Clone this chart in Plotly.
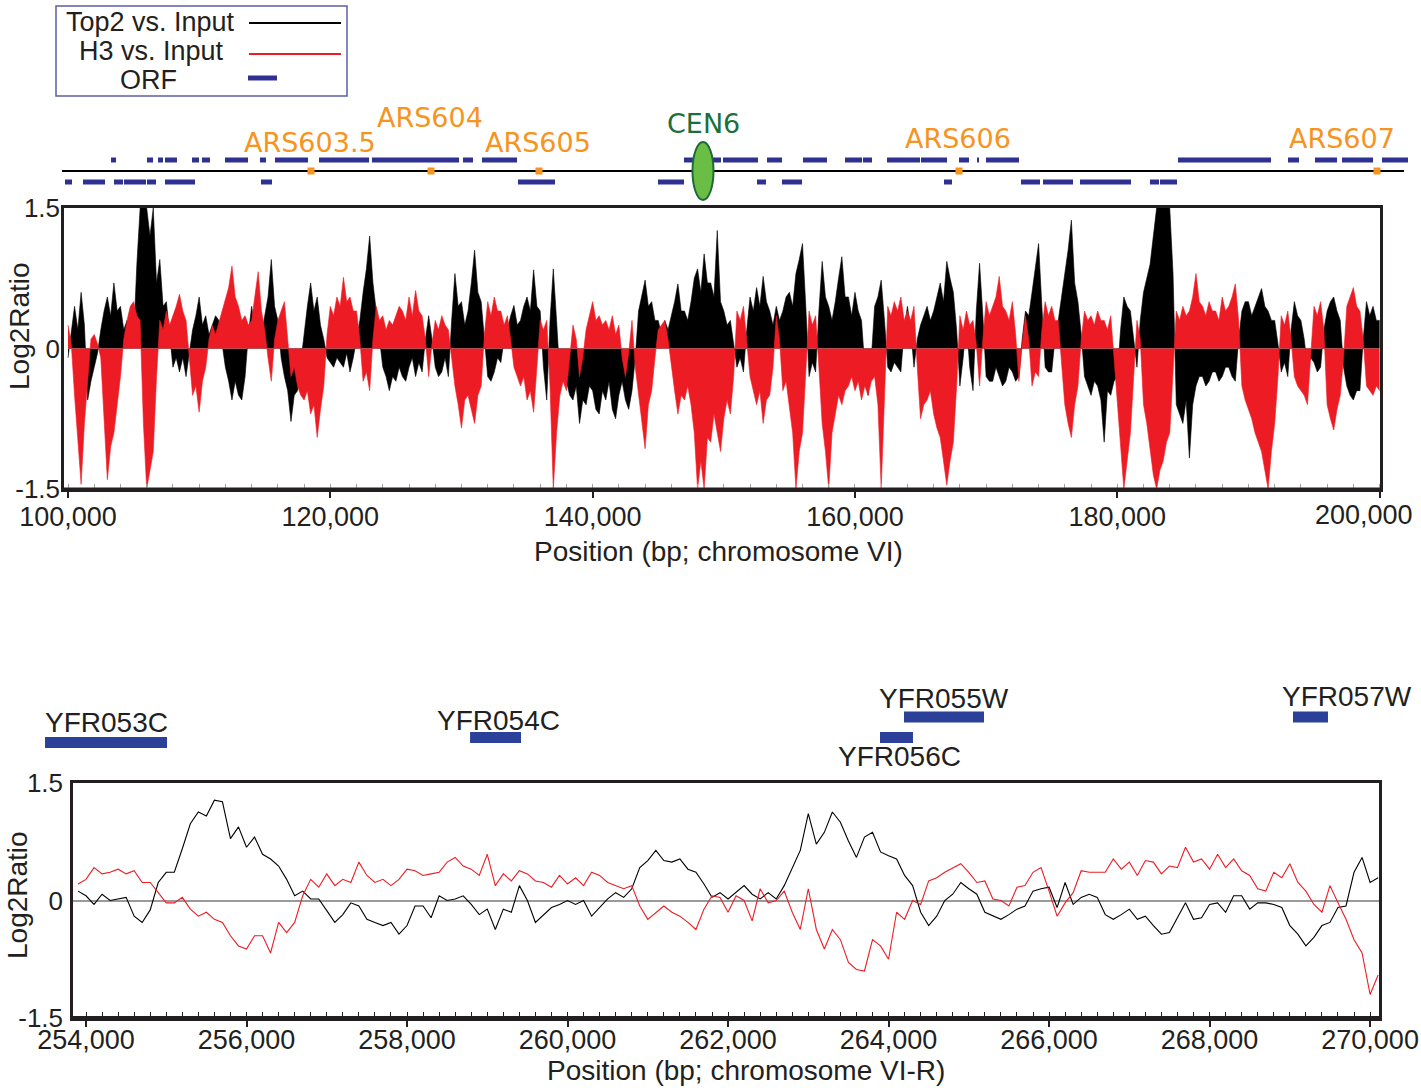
import plotly.graph_objects as go

W, H = 1421, 1088


def px(x):
    return x / W


def py(y):
    return 1 - y / H


# ---------------- DATA ----------------
# Top panel: chromosome VI 100,000-200,000, one value every 250 bp
top_start, top_step = 100000, 250
top2_top = [
    -0.10, 0.15, 0.45, 0.20, 0.60, 0.25, -0.55, -0.35, -0.20, -0.05,
    0.20, 0.40, 0.55, 0.35, 0.70, 0.40, 0.45, 0.20, 0.30, 0.15,
    0.10, 0.90, 1.50, 1.50, 1.50, 1.20, 1.50, 0.70, 0.95, 0.45,
    0.50, 0.15, -0.20, -0.10, -0.25, -0.10, -0.30, -0.05, 0.20, 0.35,
    0.55, 0.25, 0.35, 0.15, 0.25, 0.35, 0.30, 0.05, -0.20, -0.35,
    -0.55, -0.35, -0.50, -0.55, -0.30, 0.15, 0.45, 0.20, 0.30, 0.15,
    0.35, 0.55, 0.95, 0.45, 0.30, -0.10, -0.30, -0.45, -0.78, -0.50,
    -0.45, -0.15, 0.20, 0.45, 0.70, 0.40, 0.55, 0.25, 0.10, -0.10,
    -0.15, -0.20, -0.10, -0.15, -0.20, -0.05, -0.25, -0.10, 0.10, 0.30,
    0.60, 0.85, 1.20, 0.70, 0.40, 0.10, -0.20, -0.30, -0.45, -0.30,
    -0.35, -0.20, -0.30, -0.35, -0.20, -0.10, -0.30, -0.15, -0.25, 0.10,
    0.35, 0.10, -0.20, -0.30, -0.25, -0.10, -0.30, 0.30, 0.80, 0.45,
    0.50, 0.25, 0.40, 0.70, 1.05, 0.60, 0.50, 0.10, -0.30, -0.35,
    -0.25, -0.10, -0.15, 0.10, 0.20, 0.35, 0.46, 0.25, 0.30, 0.45,
    0.55, 0.40, 0.84, 0.45, 0.40, -0.20, -0.55, 0.30, 0.85, 0.30,
    -0.30, -0.20, -0.35, -0.50, -0.55, -0.40, -0.80, -0.55, -0.60, -0.40,
    -0.45, -0.65, -0.70, -0.45, -0.55, -0.35, -0.65, -0.75, -0.50, -0.35,
    -0.55, -0.65, -0.45, -0.10, 0.40, 0.55, 0.73, 0.45, 0.50, 0.30,
    0.30, 0.15, 0.30, 0.20, 0.35, 0.50, 0.69, 0.40, 0.40, 0.30,
    0.50, 0.75, 0.85, 0.60, 1.01, 0.70, 0.70, 0.55, 1.26, 0.50,
    0.40, 0.25, 0.30, 0.05, -0.20, -0.10, -0.25, 0.20, 0.55, 0.40,
    0.65, 0.45, 0.77, 0.50, 0.40, 0.25, 0.45, 0.30, 0.40, 0.55,
    0.60, 0.45, 0.80, 0.95, 1.12, 0.45, -0.30, -0.15, -0.25, 0.40,
    0.93, 0.55, 0.45, 0.30, 0.50, 0.75, 0.98, 0.55, 0.55, 0.35,
    0.60, 0.40, 0.30, -0.20, -0.50, -0.10, 0.45, 0.55, 0.73, 0.30,
    -0.20, -0.25, -0.15, -0.20, -0.25, 0.20, 0.45, 0.20, -0.20, 0.10,
    0.25, 0.35, 0.45, 0.30, 0.40, 0.55, 0.70, 0.50, 0.93, 0.75,
    0.60, 0.20, -0.40, -0.10, 0.30, -0.20, -0.45, 0.40, 0.91, 0.35,
    -0.30, -0.35, -0.35, -0.20, -0.30, -0.40, -0.35, -0.20, -0.25, -0.35,
    -0.30, 0.10, 0.40, 0.35, 0.60, 0.85, 1.12, 0.45, -0.20, -0.25,
    -0.25, 0.10, 0.30, 0.55, 0.80, 1.05, 1.37, 0.70, 0.50, 0.15,
    -0.30, -0.40, -0.50, -0.35, -0.40, -0.55, -1.00, -0.45, -0.50, -0.35,
    -0.30, 0.20, 0.55, 0.45, 0.40, 0.10, -0.20, 0.30, 0.60, 0.75,
    0.90, 1.20, 1.50, 1.50, 1.50, 1.50, 1.50, 0.80, -0.60, -0.70,
    -0.80, -0.55, -1.17, -0.60, -0.40, -0.30, -0.30, -0.40, -0.35, -0.25,
    -0.25, -0.35, -0.30, -0.20, -0.20, -0.30, -0.35, 0.10, 0.40, 0.50,
    0.50, 0.35, 0.45, 0.55, 0.64, 0.45, 0.40, 0.30, 0.30, 0.05,
    -0.25, -0.15, -0.30, 0.20, 0.50, 0.35, 0.30, 0.10, -0.20, -0.10,
    -0.15, -0.25, -0.20, 0.20, 0.40, 0.50, 0.55, 0.40, 0.30, -0.20,
    -0.40, -0.50, -0.55, -0.45, -0.45, 0.10, 0.50, 0.35, 0.45, 0.30,
    0.30,
]
h3_top = [
    0.25, 0.05, -0.50, -1.00, -1.45, -0.80, -0.35, 0.10, 0.15, 0.05,
    -0.10, -0.70, -1.40, -1.05, -0.90, -0.60, -0.30, 0.10, 0.30, 0.45,
    0.50, 0.35, 0.30, -0.80, -1.50, -1.30, -1.10, -0.30, 0.30, 0.20,
    0.40, 0.25, 0.35, 0.45, 0.58, 0.40, 0.30, -0.10, -0.50, -0.40,
    -0.68, -0.35, -0.20, 0.10, 0.25, 0.15, 0.28, 0.40, 0.55, 0.65,
    0.88, 0.55, 0.45, 0.30, 0.35, 0.25, 0.30, 0.55, 0.82, 0.40,
    0.20, -0.10, -0.35, 0.10, 0.30, 0.40, 0.50, 0.10, -0.30, -0.20,
    -0.40, -0.50, -0.55, -0.45, -0.70, -0.60, -0.95, -0.65, -0.40, 0.15,
    0.45, 0.35, 0.55, 0.45, 0.76, 0.50, 0.55, 0.40, 0.40, 0.10,
    -0.35, -0.25, -0.45, 0.10, 0.45, 0.30, 0.35, 0.20, 0.30, 0.25,
    0.35, 0.45, 0.40, 0.30, 0.55, 0.35, 0.62, 0.40, 0.35, 0.10,
    -0.30, 0.05, 0.30, 0.20, 0.35, 0.25, 0.20, -0.10, -0.40, -0.60,
    -0.85, -0.55, -0.50, -0.65, -0.80, -0.50, -0.40, 0.15, 0.50, 0.35,
    0.55, 0.40, 0.40, 0.25, 0.35, 0.10, -0.20, -0.30, -0.40, -0.30,
    -0.55, -0.45, -0.68, -0.20, 0.30, 0.20, 0.30, -0.40, -1.50, -0.90,
    -0.50, -0.35, -0.45, -0.10, 0.25, 0.10, -0.30, -0.10, 0.20, 0.35,
    0.50, 0.30, 0.35, 0.25, 0.30, 0.20, 0.35, 0.15, 0.25, -0.10,
    -0.30, -0.05, 0.30, -0.20, -0.50, -0.75, -1.07, -0.60, -0.45, -0.10,
    0.20, 0.25, 0.30, 0.10, -0.20, -0.45, -0.70, -0.50, -0.55, -0.40,
    -0.60, -0.90, -1.50, -1.20, -1.50, -0.95, -1.00, -0.70, -0.90, -1.10,
    -0.75, -0.55, -0.70, -0.30, 0.40, 0.30, 0.45, 0.10, -0.30, -0.45,
    -0.60, -0.45, -0.80, -0.55, -0.50, -0.20, 0.35, 0.10, -0.45, -0.35,
    -0.60, -0.90, -1.50, -1.10, -0.90, -0.30, 0.40, 0.25, 0.35, -0.20,
    -0.80, -1.10, -1.50, -0.90, -0.70, -0.50, -0.60, -0.45, -0.40, -0.30,
    -0.45, -0.35, -0.55, -0.40, -0.50, -0.35, -0.30, -0.60, -1.50, -0.40,
    0.45, 0.35, 0.50, 0.40, 0.55, 0.30, 0.40, 0.30, 0.45, -0.20,
    -0.75, -0.60, -0.55, -0.45, -0.70, -0.85, -0.95, -1.20, -1.46, -1.20,
    -1.00, -0.40, 0.35, 0.20, 0.40, 0.25, 0.30, 0.05, -0.40, 0.10,
    0.50, 0.35, 0.45, 0.55, 0.77, 0.45, 0.40, 0.30, 0.50, 0.15,
    -0.35, 0.05, 0.35, 0.10, -0.40, -0.25, -0.30, 0.20, 0.50, 0.35,
    0.45, 0.30, 0.30, -0.20, -0.60, -0.80, -0.95, -0.60, -0.40, 0.10,
    0.40, 0.30, 0.35, 0.25, 0.40, 0.30, 0.30, 0.20, 0.35, -0.10,
    -0.60, -1.00, -1.50, -1.20, -0.90, -0.30, 0.30, 0.10, -0.60, -0.80,
    -1.10, -1.35, -1.50, -1.30, -1.20, -1.00, -0.90, -0.30, 0.40, 0.30,
    0.45, 0.35, 0.40, 0.55, 0.80, 0.50, 0.45, 0.35, 0.50, 0.40,
    0.40, 0.30, 0.55, 0.40, 0.45, 0.55, 0.69, 0.30, -0.40, -0.55,
    -0.65, -0.75, -0.90, -1.00, -1.10, -1.30, -1.50, -1.10, -0.80, -0.30,
    0.35, 0.25, 0.40, 0.10, -0.30, -0.40, -0.45, -0.50, -0.60, -0.10,
    0.45, 0.35, 0.50, 0.20, -0.60, -0.75, -0.87, -0.65, -0.50, -0.10,
    0.45, 0.55, 0.65, 0.45, 0.40, 0.10, -0.40, -0.45, -0.50, -0.40,
    -0.45,
]

# ORFs on chromosome VI (bp), Watson (above line) and Crick (below line)
orf_watson = [
    (103277, 103659), (106021, 106479), (106860, 107241), (107393, 108308),
    (109451, 109985), (110213, 110823), (111967, 113720), (114634, 115092),
    (115778, 118293), (119131, 122942), (123171, 129802), (130107, 130869),
    (131555, 134223), (146952, 148171), (149009, 149771), (149924, 152591),
    (153277, 154421), (156022, 157851), (159223, 160519), (160595, 161281),
    (162424, 164939), (165016, 166997), (167912, 168674), (169284, 169436),
    (169970, 172485), (184604, 191693), (192988, 193827), (195047, 196724),
    (197105, 199468), (200154, 202136),
]
orf_crick = [
    (99771, 100305), (101143, 102820), (103506, 104192), (104268, 105945),
    (106021, 106707), (107393, 109680), (114710, 115549), (134299, 137119),
    (144970, 146952), (152516, 153202), (154421, 155945), (166769, 167379),
    (172638, 174086), (174315, 176601), (177135, 181022), (182470, 183156),
    (183232, 184528),
]
ars_names = ["ARS603.5", "ARS604", "ARS605", "ARS606", "ARS607"]
ars_pos = [118521, 127668, 135899, 167912, 199771]
cen_name = "CEN6"
cen_pos = 148400
track_span = (99543, 201830)

# Bottom panel: chromosome VI-R 253,900-270,100, one value every 100 bp
bot_start, bot_step = 253900, 100
top2_bot = [
    0.12, 0.06, -0.05, 0.08, 0.00, 0.02, 0.04, -0.20, -0.28, -0.12,
    0.23, 0.36, 0.36, 0.66, 0.98, 1.13, 1.08, 1.28, 1.26, 0.79,
    0.94, 0.68, 0.81, 0.59, 0.53, 0.44, 0.27, 0.06, 0.12, 0.02,
    0.02, -0.13, -0.28, -0.18, -0.03, -0.07, -0.24, -0.28, -0.32, -0.28,
    -0.43, -0.32, -0.07, -0.07, -0.22, 0.06, 0.00, 0.02, 0.06, -0.05,
    -0.18, -0.11, -0.37, -0.11, -0.15, 0.19, 0.00, -0.28, -0.18, -0.09,
    -0.05, 0.00, -0.05, 0.00, -0.20, -0.09, 0.02, 0.10, 0.04, 0.15,
    0.42, 0.51, 0.64, 0.51, 0.49, 0.53, 0.40, 0.36, 0.21, 0.04,
    0.10, 0.02, 0.10, 0.19, 0.08, 0.02, 0.10, 0.02, 0.19, 0.42,
    0.64, 1.11, 0.72, 0.87, 1.13, 1.00, 0.76, 0.55, 0.81, 0.87,
    0.62, 0.57, 0.53, 0.32, 0.19, -0.15, -0.32, -0.20, 0.00, 0.08,
    0.23, 0.15, 0.08, -0.15, -0.20, -0.24, -0.18, -0.11, -0.07, 0.12,
    0.15, 0.17, -0.09, 0.23, -0.05, 0.04, 0.08, 0.04, -0.18, -0.24,
    -0.18, -0.11, -0.24, -0.20, -0.32, -0.43, -0.41, -0.22, -0.03, -0.24,
    -0.22, -0.05, -0.03, -0.15, 0.06, 0.06, -0.11, -0.03, -0.03, -0.05,
    -0.09, -0.32, -0.43, -0.58, -0.47, -0.32, -0.28, -0.09, -0.07, 0.36,
    0.55, 0.23, 0.29,
]
h3_bot = [
    0.21, 0.27, 0.42, 0.34, 0.36, 0.40, 0.34, 0.38, 0.23, 0.23,
    0.10, -0.03, -0.03, 0.04, -0.11, -0.20, -0.15, -0.24, -0.28, -0.45,
    -0.58, -0.62, -0.45, -0.45, -0.67, -0.28, -0.41, -0.28, 0.06, 0.27,
    0.17, 0.34, 0.19, 0.27, 0.23, 0.49, 0.32, 0.23, 0.27, 0.19,
    0.27, 0.40, 0.38, 0.32, 0.34, 0.36, 0.49, 0.55, 0.44, 0.40,
    0.32, 0.59, 0.19, 0.34, 0.25, 0.38, 0.34, 0.25, 0.23, 0.17,
    0.32, 0.21, 0.29, 0.19, 0.36, 0.32, 0.23, 0.19, 0.15, 0.19,
    -0.07, -0.24, -0.15, -0.07, -0.15, -0.20, -0.28, -0.37, -0.11, 0.06,
    0.04, -0.15, 0.06, 0.00, -0.26, 0.15, -0.03, 0.00, 0.12, -0.15,
    -0.37, 0.15, -0.37, -0.62, -0.37, -0.50, -0.79, -0.88, -0.90, -0.50,
    -0.58, -0.75, -0.15, -0.24, 0.00, -0.05, 0.25, 0.29, 0.36, 0.42,
    0.47, 0.36, 0.23, 0.25, 0.02, 0.00, -0.07, 0.17, 0.19, 0.36,
    0.42, 0.12, -0.20, -0.03, 0.10, 0.38, 0.36, 0.36, 0.36, 0.53,
    0.40, 0.49, 0.32, 0.51, 0.49, 0.34, 0.44, 0.42, 0.68, 0.49,
    0.53, 0.40, 0.59, 0.42, 0.53, 0.38, 0.32, 0.15, 0.12, 0.36,
    0.29, 0.47, 0.23, 0.12, -0.05, -0.15, 0.19, -0.03, -0.24, -0.50,
    -0.67, -1.20, -0.95,
]
gene_names = ["YFR053C", "YFR054C", "YFR055W", "YFR056C", "YFR057W"]
gene_start = [253489, 258785, 264192, 263893, 269039]
gene_end = [255009, 259420, 265189, 264304, 269475]

top_ticks = [100000, 120000, 140000, 160000, 180000, 200000]
bot_ticks = [254000, 256000, 258000, 260000, 262000, 264000, 266000, 268000, 270000]
y_ticks = [-1.5, 0, 1.5]
y_ticktext = ["-1.5", "0", "1.5"]

# ---------------- STYLE ----------------
BLACK = "#000000"
RED = "#ED1C24"
NAVY = "#2E3192"
GENEBLUE = "#2B4099"
ORANGE = "#F7941D"
TXT = "#231F20"
FONT = "Liberation Sans, Arial, sans-serif"
WIDEFONT = "DejaVu Sans, Verdana, sans-serif"

# track levels (in track-axis units: pixels above the track bottom)
LINE_Y, WATSON_Y, CRICK_Y = 34, 45, 23
ars_label_y = [63, 88, 63, 67, 67]
ars_label_dx = [-1, -1, -1, -1, -35]
gene_bar_y = [27.5, 32.5, 53, 32.5, 53]
gene_label_y = [48, 50, 72, 14, 74]
gene_label_dx = [0, 3, 0, 3, 37]

top_pos = [top_start + top_step * i for i in range(len(top2_top))]
bot_pos = [bot_start + bot_step * i for i in range(len(top2_bot))]

# the last top tick label sits left of its tick (drawn separately)
top_ticktext = [f"{v:,}" for v in top_ticks[:-1]] + [""]

fig = go.Figure()

# top panel filled profiles
fig.add_trace(go.Scatter(x=top_pos, y=top2_top, xaxis="x", yaxis="y", mode="lines",
                         line=dict(color=BLACK, width=0.6), fill="tozeroy",
                         fillcolor=BLACK, hoverinfo="skip", showlegend=False))
fig.add_trace(go.Scatter(x=top_pos, y=h3_top, xaxis="x", yaxis="y", mode="lines",
                         line=dict(color=RED, width=0.6), fill="tozeroy",
                         fillcolor=RED, hoverinfo="skip", showlegend=False))

# top track: chromosome line, ORFs, ARS
fig.add_trace(go.Scatter(x=list(track_span), y=[LINE_Y, LINE_Y], xaxis="x3", yaxis="y3",
                         mode="lines", line=dict(color=BLACK, width=2),
                         hoverinfo="skip", showlegend=False))


def seg_xy(pairs, level):
    xs, ys = [], []
    for s, e in pairs:
        xs += [s, e, None]
        ys += [level, level, None]
    return xs, ys


wx, wy = seg_xy(orf_watson, WATSON_Y)
cx, cy = seg_xy(orf_crick, CRICK_Y)
fig.add_trace(go.Scatter(x=wx, y=wy, xaxis="x3", yaxis="y3", mode="lines",
                         line=dict(color=NAVY, width=5), hoverinfo="skip", showlegend=False))
fig.add_trace(go.Scatter(x=cx, y=cy, xaxis="x3", yaxis="y3", mode="lines",
                         line=dict(color=NAVY, width=5), hoverinfo="skip", showlegend=False))
fig.add_trace(go.Scatter(x=ars_pos, y=[LINE_Y] * len(ars_pos), xaxis="x3", yaxis="y3",
                         mode="markers", marker=dict(symbol="square", size=7, color=ORANGE),
                         hoverinfo="skip", showlegend=False))

# bottom panel lines
fig.add_trace(go.Scatter(x=bot_pos, y=top2_bot, xaxis="x2", yaxis="y2", mode="lines",
                         line=dict(color=BLACK, width=1.1), hoverinfo="skip", showlegend=False))
fig.add_trace(go.Scatter(x=bot_pos, y=h3_bot, xaxis="x2", yaxis="y2", mode="lines",
                         line=dict(color=RED, width=1.1), hoverinfo="skip", showlegend=False))

# bottom gene track
for s, e, lv in zip(gene_start, gene_end, gene_bar_y):
    fig.add_trace(go.Scatter(x=[s, e], y=[lv, lv], xaxis="x4", yaxis="y4", mode="lines",
                             line=dict(color=GENEBLUE, width=11), hoverinfo="skip",
                             showlegend=False))

tickfont = dict(family=FONT, size=27, color=TXT)
ytickfont = dict(family=FONT, size=26, color=TXT)

fig.update_layout(
    template="none",
    width=W, height=H, autosize=False,
    margin=dict(l=0, r=0, t=0, b=0, pad=0),
    paper_bgcolor="white", plot_bgcolor="white",
    showlegend=False,
    xaxis=dict(domain=[px(64), px(1380)], range=[99695, 200030], anchor="y",
               automargin=False,
               showline=True, linecolor=TXT, linewidth=2.5, mirror=True,
               tickvals=top_ticks, ticktext=top_ticktext, ticks="outside", ticklen=6,
               tickwidth=2, tickcolor=TXT,
               minor=dict(dtick=2000, tick0=100000, ticks="inside", ticklen=5,
                          tickcolor="#a0a0a0", tickwidth=1),
               tickfont=tickfont, showgrid=False, zeroline=False,
               ticklabelstandoff=-4, fixedrange=True),
    yaxis=dict(domain=[py(489), py(208)], range=[-1.5, 1.5], anchor="x",
               automargin=False,
               showline=True, linecolor=TXT, linewidth=2.5, mirror=True,
               tickvals=y_ticks, ticktext=y_ticktext, ticks="",
               tickfont=ytickfont, showgrid=False, zeroline=False,
               ticklabelstandoff=-4, fixedrange=True),
    xaxis2=dict(domain=[px(73), px(1379)], range=[253838, 270111], anchor="y2",
                automargin=False,
                showline=True, linecolor=TXT, linewidth=2.5, mirror=True,
                tickvals=bot_ticks, tickformat=",d", ticks="outside", ticklen=6,
                tickwidth=2, tickcolor=TXT,
                minor=dict(dtick=200, tick0=254000, ticks="inside", ticklen=6,
                           tickcolor=TXT, tickwidth=1),
                tickfont=tickfont, showgrid=False, zeroline=False,
                ticklabelstandoff=-10, fixedrange=True),
    yaxis2=dict(domain=[py(1018), py(783)], range=[-1.5, 1.5], anchor="x2",
                automargin=False,
                showline=True, linecolor=TXT, linewidth=2.5, mirror=True,
                tickvals=y_ticks, ticktext=y_ticktext, ticks="",
                tickfont=ytickfont, showgrid=False, zeroline=True,
                zerolinecolor="#9a9a9a", zerolinewidth=1.5,
                ticklabelstandoff=2, fixedrange=True),
    xaxis3=dict(domain=[0, 1], range=[94817, 203126], anchor="y3", visible=False,
                automargin=False, fixedrange=True),
    yaxis3=dict(domain=[py(205), py(100)], range=[0, 105], anchor="x3", visible=False,
                automargin=False, fixedrange=True),
    xaxis4=dict(domain=[0, 1], range=[252928, 270634], anchor="y4", visible=False,
                automargin=False, fixedrange=True),
    yaxis4=dict(domain=[py(770), py(680)], range=[0, 90], anchor="x4", visible=False,
                automargin=False, fixedrange=True),
)

shapes = [
    # legend box and samples
    dict(type="rect", xref="paper", yref="paper", x0=px(56), x1=px(347), y0=py(96), y1=py(6),
         line=dict(color="#5B5EA6", width=1.5), fillcolor="white", layer="above"),
    dict(type="line", xref="paper", yref="paper", x0=px(249), x1=px(341), y0=py(23), y1=py(23),
         line=dict(color=BLACK, width=2), layer="above"),
    dict(type="line", xref="paper", yref="paper", x0=px(249), x1=px(341), y0=py(54), y1=py(54),
         line=dict(color=RED, width=2), layer="above"),
    dict(type="line", xref="paper", yref="paper", x0=px(248), x1=px(277), y0=py(78), y1=py(78),
         line=dict(color=NAVY, width=5), layer="above"),
    # heavier bottom axis lines
    dict(type="line", xref="x domain", yref="y domain", x0=0, x1=1, y0=0, y1=0,
         line=dict(color=TXT, width=3), layer="above"),
    dict(type="line", xref="x2 domain", yref="y2 domain", x0=0, x1=1, y0=0, y1=0,
         line=dict(color=TXT, width=4), layer="above"),
    # centromere
    dict(type="circle", xref="x3", yref="y3", xsizemode="pixel", ysizemode="pixel",
         xanchor=cen_pos, yanchor=LINE_Y, x0=-10.5, x1=10.5, y0=-29, y1=29,
         fillcolor="#6ABD45", line=dict(color="#1E6B35", width=2), layer="above"),
]


def paper_text(text, x, y, size, angle=0):
    return dict(text=text, x=px(x), y=py(y), xref="paper", yref="paper",
                xanchor="center", yanchor="middle", textangle=angle,
                showarrow=False, font=dict(family=FONT, size=size, color=TXT))


annotations = [
    paper_text("Top2 vs. Input", 150, 22, 27),
    paper_text("H3 vs. Input", 151, 51, 27),
    paper_text("ORF", 148, 80, 27),
    paper_text("Position (bp; chromosome VI)", 719, 551, 28),
    paper_text("Position (bp; chromosome VI-R)", 746, 1070, 28),
    paper_text("Log2Ratio", 20, 326, 28, -90),
    paper_text("Log2Ratio", 17, 895, 28, -90),
    # last tick label of the top axis, shifted left of its tick as in the figure
    dict(text=f"{top_ticks[-1]:,}", x=top_ticks[-1], y=py(515), xref="x", yref="paper",
         xshift=-16, xanchor="center", yanchor="middle", showarrow=False, font=tickfont),
    dict(text=cen_name, x=cen_pos, y=82, xref="x3", yref="y3", showarrow=False,
         xanchor="center", yanchor="middle",
         font=dict(family=WIDEFONT, size=27, color="#1B6F3A")),
]
for name, pos, ly, dx in zip(ars_names, ars_pos, ars_label_y, ars_label_dx):
    annotations.append(dict(text=name, x=pos, y=ly, xref="x3", yref="y3", xshift=dx,
                            xanchor="center", yanchor="middle", showarrow=False,
                            font=dict(family=WIDEFONT, size=27, color=ORANGE)))
for name, s, e, ly, dx in zip(gene_names, gene_start, gene_end, gene_label_y, gene_label_dx):
    annotations.append(dict(text=name, x=(s + e) / 2, y=ly, xref="x4", yref="y4", xshift=dx,
                            xanchor="center", yanchor="middle", showarrow=False,
                            font=dict(family=FONT, size=28, color=TXT)))

fig.update_layout(shapes=shapes, annotations=annotations)

fig.write_html("out.html")
